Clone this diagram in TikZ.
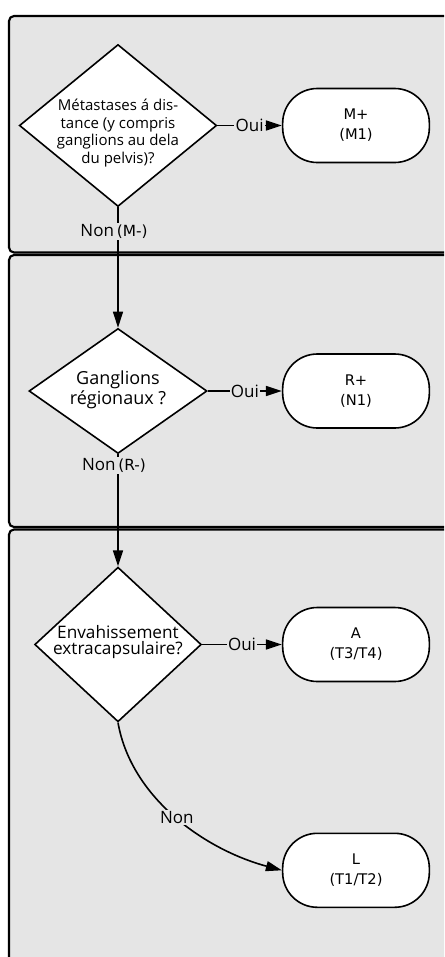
\documentclass[tikz,border=0pt]{standalone}
\usepackage{fontspec}
\setmainfont{Open Sans}
\newfontfamily\termfont{DejaVu Sans}
\usetikzlibrary{
  shapes.geometric,
  arrows.meta,
  positioning,
}
\definecolor{lanegray}{RGB}{229,229,229}

\begin{document}
\begin{tikzpicture}[
  x=0.75pt, y=-0.75pt,
  lane/.style={draw, line width=1.6pt, fill=lanegray, rounded corners=3.75pt},
  decision/.style={diamond, draw, line width=1.2pt, fill=white, inner sep=0pt},
  dtext/.style={align=center, inner sep=0pt},
  terminal/.style={rectangle, draw, line width=1.2pt, fill=white, rounded corners=26pt,
    minimum width=110pt, minimum height=55.5pt, align=center,
    font=\termfont\fontsize{11}{15}\selectfont},
  arr/.style={line width=1.2pt, -{Triangle[length=12pt,width=7.5pt]}},
  lbl/.style={fill=lanegray, inner sep=1pt, font=\fontsize{12.75}{15}\selectfont},
]
\clip (0,0) rectangle (444,957);
\fill[white] (0,0) rectangle (444,957);
% swimlanes
\path[lane] (9,16) rectangle (480,252.5);
\path[lane] (9,255) rectangle (480,527);
\path[lane] (9,529.5) rectangle (480,1000);

% decisions
\node[decision, minimum width=148pt, minimum height=121.5pt] (d1) at (118,125.5) {};
\node[dtext, font=\fontsize{11.25}{13.3}\selectfont] (d1txt) at (118,133)
  {Métastases á dis-\\tance (y compris\\ganglions au dela\\du pelvis)?};
\node[decision, minimum width=133.5pt, minimum height=93.75pt] (d2) at (118,391) {};
\node[dtext, font=\fontsize{13.5}{12}\selectfont] (d2txt) at (118,390)
  {Ganglions\\régionaux ?};
\node[decision, minimum width=125pt, minimum height=116pt] (d3) at (118,644.5) {};
\node[dtext, font=\fontsize{12.9}{12.5}\selectfont] (d3txt) at (118,642)
  {Envahissement\\extracapsulaire?};

% results
\node[terminal] (t1) at (356,125.5) {M+\\(M1)};
\node[terminal] (t2) at (356,391) {R+\\(N1)};
\node[terminal] (t3) at (356,644.5) {A\\(T3/T4)};
\node[terminal] (t4) at (356,870.3) {L\\(T1/T2)};

% connectors
\draw[arr] (d1.east) -- node[lbl] {Oui} (t1.west);
\draw[arr] (d2.east) -- node[lbl] {Oui} (t2.west);
\draw[arr] (d3.east) -- node[lbl] {Oui} (t3.west);
\draw[arr] (d1.south) -- node[lbl, pos=0.2, xshift=-3pt]
  {Non\,{\termfont\fontsize{11.5}{12}\selectfont(M-)}} (d2.north);
\draw[arr] (d2.south) -- node[lbl, pos=0.1, xshift=-3pt]
  {Non\,{\termfont\fontsize{11.5}{12}\selectfont(R-)}} (d3.north);
\draw[arr] (d3.south) to[out=-80, in=165, looseness=0.9] node[lbl] {Non} (t4.west);
\end{tikzpicture}
\end{document}
